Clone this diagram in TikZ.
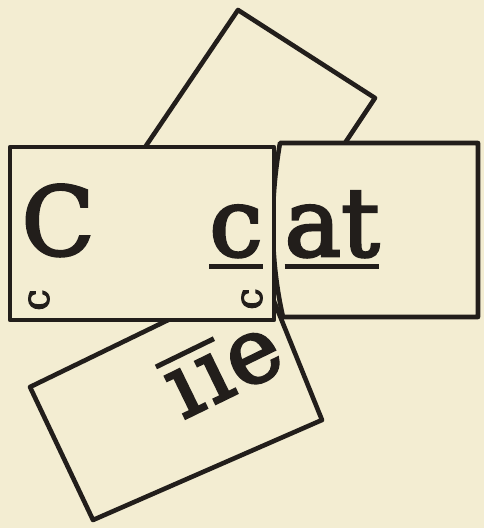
\documentclass[tikz,border=0pt]{standalone}
\usepackage{fontspec}
\newfontfamily\cardfont[FakeBold=3]{DejaVu Serif}
\definecolor{paper}{HTML}{F3EDD2}
\definecolor{ink}{HTML}{221E1B}
\newcommand\cardunder[1]{\vtop{\hbox{#1}\kern7pt\hrule height 4.5pt}}
\newcommand\cardover[1]{\vbox{\hrule height 5pt\kern10pt\hbox{#1}}}
\tikzset{
  card/.style={draw=ink,fill=paper,line width=4.6pt,line join=round},
  letter/.style={font=\cardfont\fontsize{95}{100}\selectfont,text=ink,inner sep=0pt,anchor=base},
  tipped/.style={font=\cardfont\fontsize{90}{94}\selectfont,text=ink,inner sep=0pt,rotate=26},
  notch/.style={font=\cardfont\fontsize{38}{40}\selectfont,text=ink,inner sep=0pt,rotate=90}
}
\begin{document}
\begin{tikzpicture}[x=1pt,y=1pt]
\fill[paper] (0,0) rectangle (484,-528);
\path[use as bounding box] (0,0) rectangle (484,-528);
% cards lying underneath
\draw[card] (238,-10) -- (375,-98) -- (249,-287) -- (112,-196) -- cycle;
\draw[card] (30,-387) -- (93,-520) -- (322,-420) -- (263,-274) -- cycle;
\node[tipped] (tail) at (222,-367) {\cardover{\kern1pt\i\kern5pt\i\kern1pt}\kern1pt e};
% the two cards on top
\draw[card] (283,-317) .. controls (270,-260) and (270,-200) .. (280,-143) -- (478,-143) -- (478,-317) -- cycle;
\draw[card] (10,-147) rectangle (274,-320);
\node[letter] (bigC) at (58,-255) {C};
\node[letter] (smallc) at (236,-256) {\cardunder{c}};
\node[letter] (at) at (332,-256) {\cardunder{at}};
\node[notch] (markL) at (39,-300) {c}; \node[notch] (markR) at (252,-299) {c};
\end{tikzpicture}
\end{document}
